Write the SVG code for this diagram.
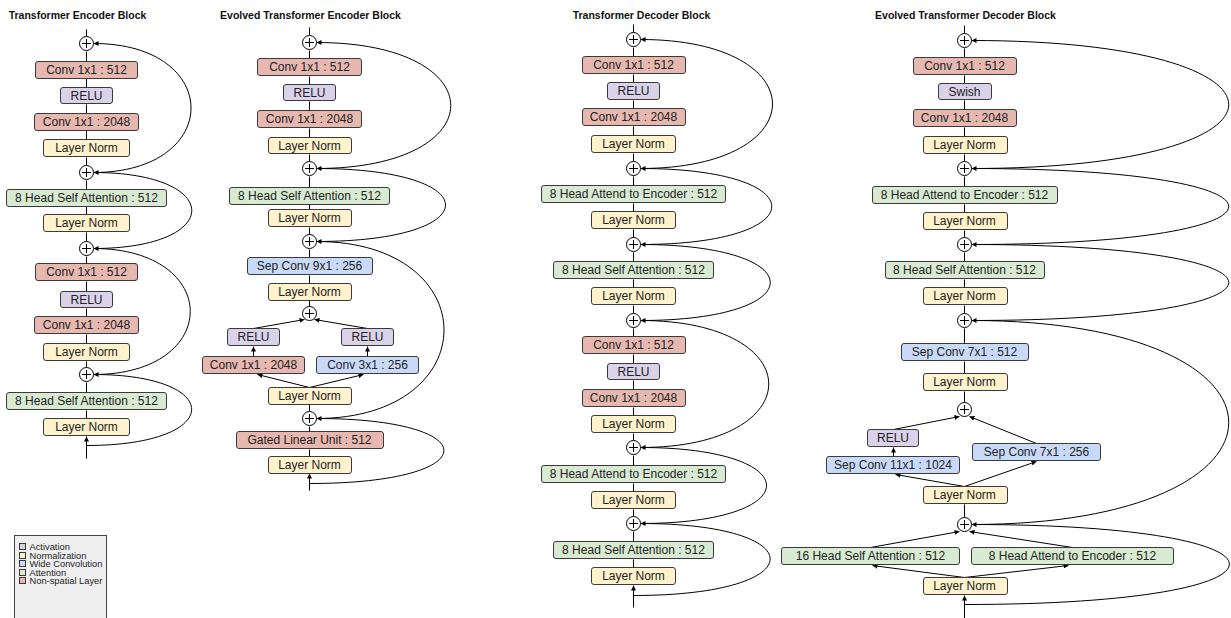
<svg xmlns="http://www.w3.org/2000/svg" width="1231" height="618" viewBox="0 0 1231 618">
<style>
.b{stroke:#3a3a3a;stroke-width:1}
.act{fill:#d9d2e9}.norm{fill:#fff2cc}.wide{fill:#c9daf8}.attn{fill:#d9ead3}.ns{fill:#e6b8af}
.t{font-family:"Liberation Sans",Arial,sans-serif;font-size:12px;fill:#222;text-anchor:middle}
.h{font-family:"Liberation Sans",Arial,sans-serif;font-size:10.5px;font-weight:bold;fill:#111;text-anchor:middle}
.lg{font-family:"Liberation Sans",Arial,sans-serif;font-size:9.3px;fill:#222}
.c{stroke:#000;stroke-width:1;fill:none;marker-end:url(#ah)}
.p circle{fill:#fff;stroke:#000;stroke-width:1}
.p path{stroke:#000;stroke-width:1;fill:none}
</style>
<defs>
<marker id="ah" viewBox="0 0 6 6" refX="6" refY="3" markerWidth="5" markerHeight="5" markerUnits="userSpaceOnUse" orient="auto"><path d="M0,0 L6,3 L0,6 z" fill="#000"/></marker>
<g id="plus" class="p"><circle r="7"/><path d="M-4.5,0H4.5M0,-4.5V4.5"/></g>
</defs>
<rect width="1231" height="618" fill="#fff"/>
<g transform="translate(0.5,0.5)">
<g id="titles">
<text class="h" x="77" y="18">Transformer Encoder Block</text>
<text class="h" x="310" y="18">Evolved Transformer Encoder Block</text>
<text class="h" x="641" y="18">Transformer Decoder Block</text>
<text class="h" x="965" y="18">Evolved Transformer Decoder Block</text>
</g>
<g id="connectors">
<!-- col1 -->
<path class="c" d="M86,36V29M86,61V51M86,87V78M86,113V104M86,139V130M86,165V157M86,189V180M86,214V206M86,241V232M86,263V256M86,291V281M86,316V308M86,343V334M86,367V361M86,392V382M86,418V410M86,458V436"/>
<path class="c" d="M93,172C223,172 223,43 93,43"/>
<path class="c" d="M93,248C224,248 224,172 93,172"/>
<path class="c" d="M93,374C222,374 222,248 93,248"/>
<path class="c" d="M86,445C225,445 225,374 93,374"/>
<!-- col2 -->
<path class="c" d="M309,35V27M309,58V50M309,84V76M309,110V101M309,137V128M309,161V154M309,187V176M309,209V204M309,234V227M309,257V249M309,283V275M309,306V300M309,411V404M309,431V426M309,456V449M309,490V473"/>
<path class="c" d="M253,328L304,319"/><path class="c" d="M367,328L314,319"/>
<path class="c" d="M253,356V346"/><path class="c" d="M367,356V346"/>
<path class="c" d="M309,387L257,374"/><path class="c" d="M309,387L363,374"/>
<path class="c" d="M316,168C495,168 495,42 316,42"/>
<path class="c" d="M316,241C488,241 488,168 316,168"/>
<path class="c" d="M316,418C486,418 486,241 316,241"/>
<path class="c" d="M309,483C487,483 487,418 316,418"/>
<!-- col3 -->
<path class="c" d="M633,32V24M633,56V47M633,82V74M633,108V100M633,135V126M633,161V153M633,185V176M633,211V203M633,237V229M633,261V252M633,287V279M633,313V305M633,336V328M633,363V354M633,389V380M633,415V407M633,440V433M633,465V455M633,491V483M633,516V509M633,541V531M633,567V559M633,607V585"/>
<path class="c" d="M640,168C816,168 816,39 640,39"/>
<path class="c" d="M640,244C815,244 815,168 640,168"/>
<path class="c" d="M640,320C813,320 813,244 640,244"/>
<path class="c" d="M640,447C811,447 811,320 640,320"/>
<path class="c" d="M640,523C808,523 808,447 640,447"/>
<path class="c" d="M633,595C814,595 814,523 640,523"/>
<!-- col4 -->
<path class="c" d="M964,33V25M964,57V48M964,83V75M964,109V100M964,136V127M964,161V154M964,186V176M964,212V204M964,237V230M964,261V252M964,287V279M964,313V305M964,343V328M964,373V361M964,402V391M964,517V504M964,618V595"/>
<path class="c" d="M893,429L959,416"/><path class="c" d="M1036,443L969,416"/>
<path class="c" d="M893,456V447"/>
<path class="c" d="M964,486L895,474"/><path class="c" d="M964,486L1036,461"/>
<path class="c" d="M870,547L959,531"/><path class="c" d="M1072,547L969,531"/>
<path class="c" d="M964,577L872,565"/><path class="c" d="M964,577L1068,565"/>
<path class="c" d="M971,168C1314,168 1314,40 971,40"/>
<path class="c" d="M971,244C1314,244 1314,168 971,168"/>
<path class="c" d="M971,320C1314,320 1314,244 971,244"/>
<path class="c" d="M971,524C1314,524 1314,320 971,320"/>
<path class="c" d="M964,604C1316,604 1316,524 971,524"/>
</g>
<g id="encoder">
<use href="#plus" x="86" y="43"/><use href="#plus" x="86" y="172"/><use href="#plus" x="86" y="248"/><use href="#plus" x="86" y="374"/>
<g id="e1"><rect class="b ns" x="35" y="61" width="102" height="17" rx="2.5"/><text class="t" x="86" y="73.8">Conv 1x1 : 512</text></g>
<g id="e2"><rect class="b act" x="60" y="87" width="52" height="16" rx="2.5"/><text class="t" x="86" y="99.3">RELU</text></g>
<g id="e3"><rect class="b ns" x="34" y="113" width="104" height="17" rx="2.5"/><text class="t" x="86" y="125.8">Conv 1x1 : 2048</text></g>
<g id="e4"><rect class="b norm" x="43" y="139" width="86" height="17" rx="2.5"/><text class="t" x="86" y="151.8">Layer Norm</text></g>
<g id="e5"><rect class="b attn" x="6" y="189" width="160" height="17" rx="2.5"/><text class="t" x="86" y="201.8">8 Head Self Attention : 512</text></g>
<g id="e6"><rect class="b norm" x="43" y="214" width="86" height="17" rx="2.5"/><text class="t" x="86" y="226.8">Layer Norm</text></g>
<g id="e7"><rect class="b ns" x="35" y="263" width="102" height="17" rx="2.5"/><text class="t" x="86" y="275.8">Conv 1x1 : 512</text></g>
<g id="e8"><rect class="b act" x="60" y="291" width="52" height="16" rx="2.5"/><text class="t" x="86" y="303.3">RELU</text></g>
<g id="e9"><rect class="b ns" x="34" y="316" width="104" height="17" rx="2.5"/><text class="t" x="86" y="328.8">Conv 1x1 : 2048</text></g>
<g id="e10"><rect class="b norm" x="43" y="343" width="86" height="17" rx="2.5"/><text class="t" x="86" y="355.8">Layer Norm</text></g>
<g id="e11"><rect class="b attn" x="6" y="392" width="160" height="17" rx="2.5"/><text class="t" x="86" y="404.8">8 Head Self Attention : 512</text></g>
<g id="e12"><rect class="b norm" x="43" y="418" width="86" height="17" rx="2.5"/><text class="t" x="86" y="430.8">Layer Norm</text></g>
</g>
<g id="evolved-encoder">
<use href="#plus" x="309" y="42"/><use href="#plus" x="309" y="168"/><use href="#plus" x="309" y="241"/><use href="#plus" x="309" y="313"/><use href="#plus" x="309" y="418"/>
<g id="ee1"><rect class="b ns" x="257" y="58" width="104" height="17" rx="2.5"/><text class="t" x="309" y="70.8">Conv 1x1 : 512</text></g>
<g id="ee2"><rect class="b act" x="283" y="84" width="52" height="16" rx="2.5"/><text class="t" x="309" y="96.3">RELU</text></g>
<g id="ee3"><rect class="b ns" x="257" y="110" width="104" height="17" rx="2.5"/><text class="t" x="309" y="122.8">Conv 1x1 : 2048</text></g>
<g id="ee4"><rect class="b norm" x="268" y="137" width="83" height="16" rx="2.5"/><text class="t" x="309" y="149.3">Layer Norm</text></g>
<g id="ee5"><rect class="b attn" x="229" y="187" width="160" height="17" rx="2.5"/><text class="t" x="309" y="199.8">8 Head Self Attention : 512</text></g>
<g id="ee6"><rect class="b norm" x="268" y="209" width="83" height="17" rx="2.5"/><text class="t" x="309" y="221.8">Layer Norm</text></g>
<g id="ee7"><rect class="b wide" x="247" y="257" width="125" height="17" rx="2.5"/><text class="t" x="309" y="269.8">Sep Conv 9x1 : 256</text></g>
<g id="ee8"><rect class="b norm" x="268" y="283" width="83" height="17" rx="2.5"/><text class="t" x="309" y="295.8">Layer Norm</text></g>
<g id="ee9"><rect class="b act" x="227" y="328" width="52" height="17" rx="2.5"/><text class="t" x="253" y="340.8">RELU</text></g>
<g id="ee10"><rect class="b act" x="341" y="328" width="52" height="17" rx="2.5"/><text class="t" x="367" y="340.8">RELU</text></g>
<g id="ee11"><rect class="b ns" x="202" y="356" width="102" height="17" rx="2.5"/><text class="t" x="253" y="368.8">Conv 1x1 : 2048</text></g>
<g id="ee12"><rect class="b wide" x="316" y="356" width="102" height="17" rx="2.5"/><text class="t" x="367" y="368.8">Conv 3x1 : 256</text></g>
<g id="ee13"><rect class="b norm" x="268" y="387" width="83" height="17" rx="2.5"/><text class="t" x="309" y="399.8">Layer Norm</text></g>
<g id="ee14"><rect class="b ns" x="236" y="431" width="147" height="17" rx="2.5"/><text class="t" x="309" y="443.8">Gated Linear Unit : 512</text></g>
<g id="ee15"><rect class="b norm" x="268" y="456" width="83" height="17" rx="2.5"/><text class="t" x="309" y="468.8">Layer Norm</text></g>
</g>
<g id="decoder">
<use href="#plus" x="633" y="39"/><use href="#plus" x="633" y="168"/><use href="#plus" x="633" y="244"/><use href="#plus" x="633" y="320"/><use href="#plus" x="633" y="447"/><use href="#plus" x="633" y="523"/>
<g id="d1"><rect class="b ns" x="582" y="56" width="103" height="17" rx="2.5"/><text class="t" x="633" y="68.8">Conv 1x1 : 512</text></g>
<g id="d2"><rect class="b act" x="607" y="82" width="52" height="17" rx="2.5"/><text class="t" x="633" y="94.8">RELU</text></g>
<g id="d3"><rect class="b ns" x="582" y="108" width="103" height="17" rx="2.5"/><text class="t" x="633" y="120.8">Conv 1x1 : 2048</text></g>
<g id="d4"><rect class="b norm" x="591" y="135" width="84" height="17" rx="2.5"/><text class="t" x="633" y="147.8">Layer Norm</text></g>
<g id="d5"><rect class="b attn" x="541" y="185" width="184" height="17" rx="2.5"/><text class="t" x="633" y="197.8">8 Head Attend to Encoder : 512</text></g>
<g id="d6"><rect class="b norm" x="591" y="211" width="84" height="17" rx="2.5"/><text class="t" x="633" y="223.8">Layer Norm</text></g>
<g id="d7"><rect class="b attn" x="553" y="261" width="160" height="17" rx="2.5"/><text class="t" x="633" y="273.8">8 Head Self Attention : 512</text></g>
<g id="d8"><rect class="b norm" x="591" y="287" width="84" height="17" rx="2.5"/><text class="t" x="633" y="299.8">Layer Norm</text></g>
<g id="d9"><rect class="b ns" x="582" y="336" width="103" height="17" rx="2.5"/><text class="t" x="633" y="348.8">Conv 1x1 : 512</text></g>
<g id="d10"><rect class="b act" x="607" y="363" width="52" height="16" rx="2.5"/><text class="t" x="633" y="375.3">RELU</text></g>
<g id="d11"><rect class="b ns" x="582" y="389" width="103" height="17" rx="2.5"/><text class="t" x="633" y="401.8">Conv 1x1 : 2048</text></g>
<g id="d12"><rect class="b norm" x="591" y="415" width="84" height="17" rx="2.5"/><text class="t" x="633" y="427.8">Layer Norm</text></g>
<g id="d13"><rect class="b attn" x="541" y="465" width="184" height="17" rx="2.5"/><text class="t" x="633" y="477.8">8 Head Attend to Encoder : 512</text></g>
<g id="d14"><rect class="b norm" x="591" y="491" width="84" height="17" rx="2.5"/><text class="t" x="633" y="503.8">Layer Norm</text></g>
<g id="d15"><rect class="b attn" x="553" y="541" width="160" height="17" rx="2.5"/><text class="t" x="633" y="553.8">8 Head Self Attention : 512</text></g>
<g id="d16"><rect class="b norm" x="591" y="567" width="84" height="17" rx="2.5"/><text class="t" x="633" y="579.8">Layer Norm</text></g>
</g>
<g id="evolved-decoder">
<use href="#plus" x="964" y="40"/><use href="#plus" x="964" y="168"/><use href="#plus" x="964" y="244"/><use href="#plus" x="964" y="320"/><use href="#plus" x="964" y="409"/><use href="#plus" x="964" y="524"/>
<g id="ed1"><rect class="b ns" x="913" y="57" width="103" height="17" rx="2.5"/><text class="t" x="964" y="69.8">Conv 1x1 : 512</text></g>
<g id="ed2"><rect class="b act" x="938" y="83" width="53" height="16" rx="2.5"/><text class="t" x="964" y="95.3">Swish</text></g>
<g id="ed3"><rect class="b ns" x="913" y="109" width="103" height="17" rx="2.5"/><text class="t" x="964" y="121.8">Conv 1x1 : 2048</text></g>
<g id="ed4"><rect class="b norm" x="923" y="136" width="84" height="17" rx="2.5"/><text class="t" x="964" y="148.8">Layer Norm</text></g>
<g id="ed5"><rect class="b attn" x="872" y="186" width="185" height="17" rx="2.5"/><text class="t" x="964" y="198.8">8 Head Attend to Encoder : 512</text></g>
<g id="ed6"><rect class="b norm" x="923" y="212" width="84" height="17" rx="2.5"/><text class="t" x="964" y="224.8">Layer Norm</text></g>
<g id="ed7"><rect class="b attn" x="885" y="261" width="159" height="17" rx="2.5"/><text class="t" x="964" y="273.8">8 Head Self Attention : 512</text></g>
<g id="ed8"><rect class="b norm" x="923" y="287" width="84" height="17" rx="2.5"/><text class="t" x="964" y="299.8">Layer Norm</text></g>
<g id="ed9"><rect class="b wide" x="901" y="343" width="127" height="17" rx="2.5"/><text class="t" x="964" y="355.8">Sep Conv 7x1 : 512</text></g>
<g id="ed10"><rect class="b norm" x="923" y="373" width="84" height="17" rx="2.5"/><text class="t" x="964" y="385.8">Layer Norm</text></g>
<g id="ed11"><rect class="b act" x="867" y="429" width="51" height="17" rx="2.5"/><text class="t" x="892.5" y="441.8">RELU</text></g>
<g id="ed12"><rect class="b wide" x="826" y="456" width="133" height="17" rx="2.5"/><text class="t" x="892.5" y="468.8">Sep Conv 11x1 : 1024</text></g>
<g id="ed13"><rect class="b wide" x="972" y="443" width="128" height="17" rx="2.5"/><text class="t" x="1036" y="455.8">Sep Conv 7x1 : 256</text></g>
<g id="ed14"><rect class="b norm" x="923" y="486" width="84" height="17" rx="2.5"/><text class="t" x="964" y="498.8">Layer Norm</text></g>
<g id="ed15"><rect class="b attn" x="781" y="547" width="178" height="17" rx="2.5"/><text class="t" x="870" y="559.8">16 Head Self Attention : 512</text></g>
<g id="ed16"><rect class="b attn" x="971" y="547" width="202" height="17" rx="2.5"/><text class="t" x="1072" y="559.8">8 Head Attend to Encoder : 512</text></g>
<g id="ed17"><rect class="b norm" x="923" y="577" width="84" height="17" rx="2.5"/><text class="t" x="964" y="589.8">Layer Norm</text></g>
</g>
<g id="legend">
<rect x="14" y="535" width="92" height="90" fill="#efefef" stroke="#444"/>
<rect class="b act" x="19" y="543" width="6" height="6"/><text class="lg" x="29" y="549.4">Activation</text>
<rect class="b norm" x="19" y="552" width="6" height="6"/><text class="lg" x="29" y="558.4">Normalization</text>
<rect class="b wide" x="19" y="560" width="6" height="6"/><text class="lg" x="29" y="566.4">Wide Convolution</text>
<rect class="b attn" x="19" y="569" width="6" height="6"/><text class="lg" x="29" y="575.4">Attention</text>
<rect class="b ns" x="19" y="577" width="6" height="6"/><text class="lg" x="29" y="583.4">Non-spatial Layer</text>
</g>
</g>
</svg>
